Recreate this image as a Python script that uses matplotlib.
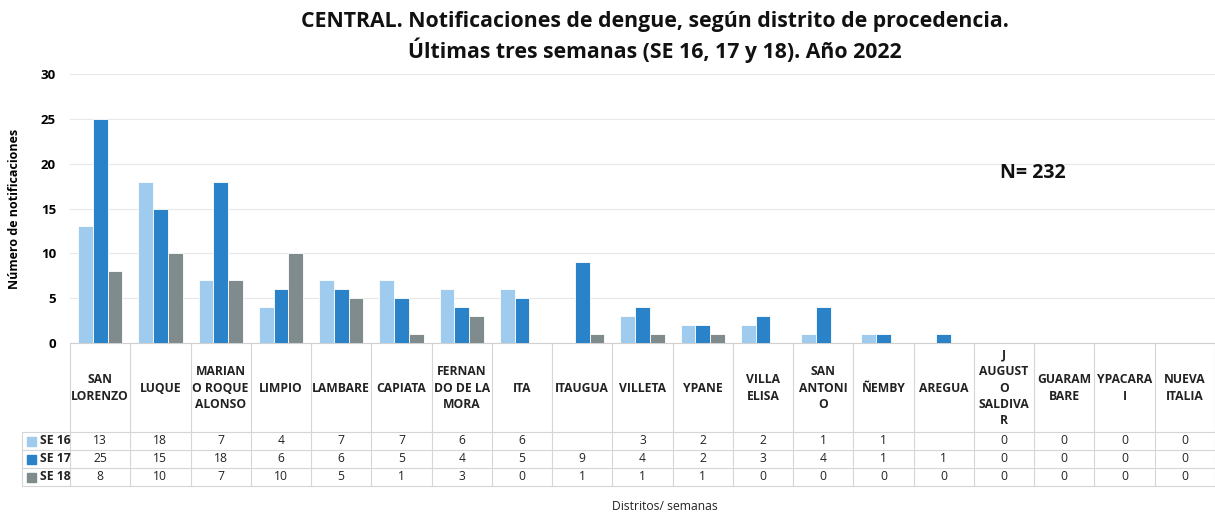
import numpy as np
import matplotlib
matplotlib.use("Agg")
import matplotlib.pyplot as plt
from matplotlib.transforms import blended_transform_factory

plt.rcParams['font.family'] = ['Open Sans', 'DejaVu Sans']

categories = ["SAN\nLORENZO", "LUQUE", "MARIAN\nO ROQUE\nALONSO", "LIMPIO", "LAMBARE",
              "CAPIATA", "FERNAN\nDO DE LA\nMORA", "ITA", "ITAUGUA", "VILLETA", "YPANE",
              "VILLA\nELISA", "SAN\nANTONI\nO", "ÑEMBY", "AREGUA", "J\nAUGUST\nO\nSALDIVA\nR",
              "GUARAM\nBARE", "YPACARA\nI", "NUEVA\nITALIA"]
series_names = ["SE 16", "SE 17", "SE 18"]
se16 = [13, 18, 7, 4, 7, 7, 6, 6, None, 3, 2, 2, 1, 1, None, 0, 0, 0, 0]
se17 = [25, 15, 18, 6, 6, 5, 4, 5, 9, 4, 2, 3, 4, 1, 1, 0, 0, 0, 0]
se18 = [8, 10, 7, 10, 5, 1, 3, 0, 1, 1, 1, 0, 0, 0, 0, 0, 0, 0, 0]
colors = ["#9FCBEE", "#2A82C9", "#7F8B8C"]
yticks = [0, 5, 10, 15, 20, 25, 30]

W, H = 1215, 515
fig = plt.figure(figsize=(W / 100, H / 100), dpi=100)

def fx(px):
    return px / W

def fy(py):
    return 1 - py / H

ax_left, ax_right, ax_top, ax_bottom = 70, 1215, 74, 343
ax = fig.add_axes([fx(ax_left), fy(ax_bottom), fx(ax_right - ax_left), fy(ax_top) - fy(ax_bottom)])

n = len(categories)
x = np.arange(n)
bw = 0.245
series = [se16, se17, se18]
for i, (vals, c) in enumerate(zip(series, colors)):
    v = np.array([np.nan if a is None else a for a in vals], dtype=float)
    ax.bar(x + (i - 1) * bw, v, width=bw, color=c, edgecolor="white", linewidth=0.6, zorder=3)

ax.set_xlim(-0.5, n - 0.5)
ax.set_ylim(0, 30)
ax.set_yticks(yticks)
ax.set_yticklabels([str(t) for t in yticks], fontsize=9.5, fontweight='bold')
ax.tick_params(axis='y', length=0, pad=10)
ax.set_xticks([])
ax.grid(axis='y', color="#E8E8E8", linewidth=0.8, zorder=0)
for s in ["top", "right", "left"]:
    ax.spines[s].set_visible(False)
ax.spines["bottom"].set_color("#D0D0D0")
ax.set_ylabel("Número de notificaciones", fontsize=9, fontweight='bold')
ax.yaxis.set_label_coords(-0.043, 0.5)

# Table drawn below axis
trans = blended_transform_factory(ax.transData, fig.transFigure)
line_col = "#D6D6D6"
row_tops = [432, 450, 468, 486]
for b in np.arange(-0.5, n, 1.0):
    ax.plot([b, b], [fy(ax_bottom), fy(486)], transform=trans, color=line_col,
            linewidth=0.8, clip_on=False)
fig.add_artist(plt.Line2D([fx(22), fx(22)], [fy(432), fy(486)], color=line_col, linewidth=0.8))
for ry in row_tops:
    fig.add_artist(plt.Line2D([fx(22), fx(1215)], [fy(ry), fy(ry)], color=line_col, linewidth=0.8))

for i, cat in enumerate(categories):
    ax.text(i, fy(388), cat, transform=trans, ha='center', va='center', fontsize=8.7,
            fontweight='bold', linespacing=1.35, color="#222222")

for r, (name, vals, c) in enumerate(zip(series_names, series, colors)):
    yc = fy((row_tops[r] + row_tops[r + 1]) / 2)
    fig.patches.append(plt.Rectangle((fx(27), yc - 4.5 / H), 9 / W, 9 / H, color=c,
                                     transform=fig.transFigure, figure=fig))
    fig.text(fx(40), yc, name, ha='left', va='center', fontsize=8.7, fontweight='bold', color="#222222")
    for i, v in enumerate(vals):
        if v is not None:
            ax.text(i, yc, str(v), transform=trans, ha='center', va='center', fontsize=8.7,
                    color="#222222")

fig.text(fx(665), fy(507), "Distritos/ semanas", ha='center', va='center', fontsize=8.7,
         color="#222222")

fig.text(fx(655), fy(37), "CENTRAL. Notificaciones de dengue, según distrito de procedencia.\n"
         "Últimas tres semanas (SE 16, 17 y 18). Año 2022", ha='center', va='center',
         fontsize=15.3, fontweight='bold', linespacing=1.3, color="#111111")

fig.text(fx(1033), fy(173), "N= 232", ha='center', va='center', fontsize=14,
         fontweight='bold', color="#111111")

fig.savefig("out.png", dpi=100)
